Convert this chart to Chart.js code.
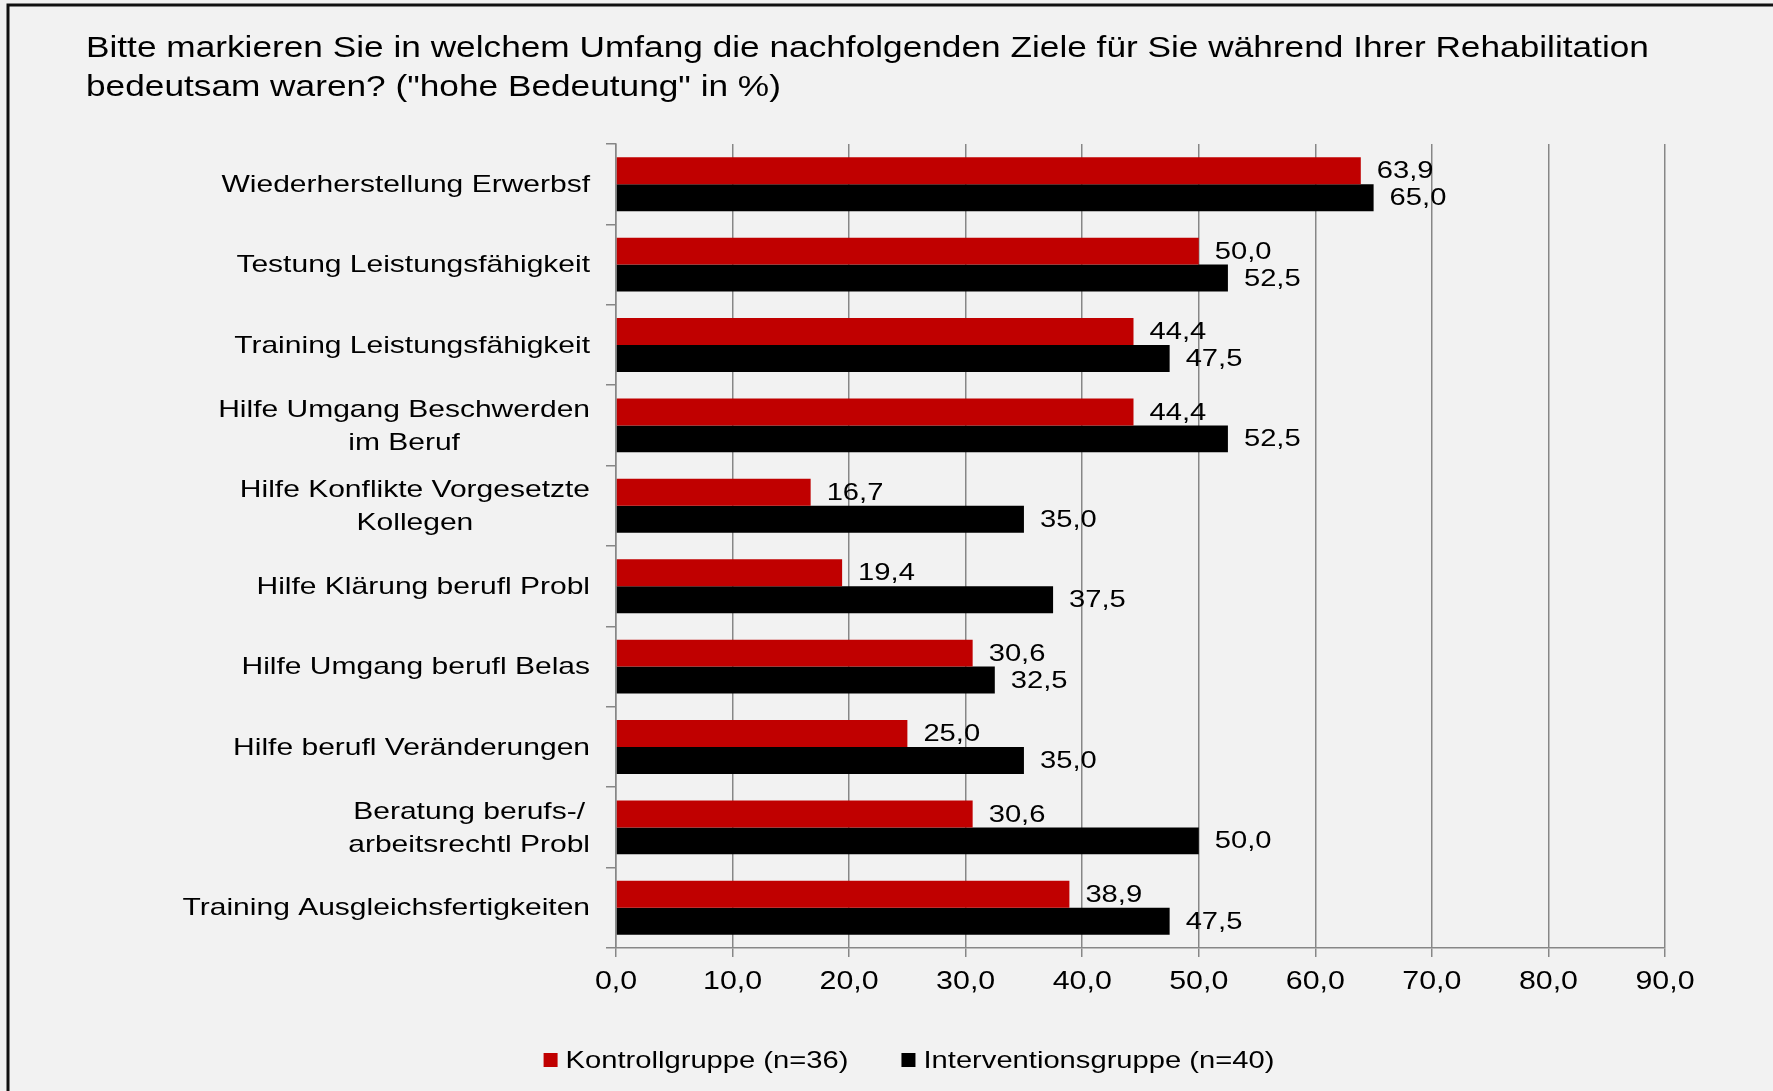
<!DOCTYPE html>
<html>
<head>
<meta charset="utf-8">
<script src="https://cdn.jsdelivr.net/npm/chart.js@4/dist/chart.umd.min.js"></script>
<style>
    html, body { margin: 0; padding: 0; background: #f2f2f2; }
    #wrap { width: 1773px; height: 1091px; }
</style>
</head>
<body>
<div id="wrap"><canvas id="zieleChart" width="1773" height="1091"></canvas></div>
<script>
// Ziele der Rehabilitation - "hohe Bedeutung" in %

const titel = [
    "Bitte markieren Sie in welchem Umfang die nachfolgenden Ziele für Sie während Ihrer Rehabilitation",
    "bedeutsam waren? (\"hohe Bedeutung\" in %)",
];

const kategorien = [
    ["Wiederherstellung Erwerbsf"],
    ["Testung Leistungsfähigkeit"],
    ["Training Leistungsfähigkeit"],
    ["Hilfe Umgang Beschwerden", "im Beruf"],
    ["Hilfe Konflikte Vorgesetzte", "Kollegen"],
    ["Hilfe Klärung berufl Probl"],
    ["Hilfe Umgang berufl Belas"],
    ["Hilfe berufl Veränderungen"],
    ["Beratung berufs-/", "arbeitsrechtl Probl"],
    ["Training Ausgleichsfertigkeiten"],
];

const kontrollgruppe = [63.9, 50.0, 44.4, 44.4, 16.7, 19.4, 30.6, 25.0, 30.6, 38.9];
const interventionsgruppe = [65.0, 52.5, 47.5, 52.5, 35.0, 37.5, 32.5, 35.0, 50.0, 47.5];

const xTicks = [0, 10, 20, 30, 40, 50, 60, 70, 80, 90];

const FONT = "'Liberation Sans', Arial, sans-serif";
// Die Vorlage ist horizontal gestreckt
const STRECKUNG = 1.215;
const STRECKUNG_KAT = 1.25;

function formatWert(v) {
    return v.toFixed(1).replace(".", ",");
}

// Text horizontal gestreckt zeichnen
function textGestreckt(ctx, text, x, y, align, sx = STRECKUNG) {
    ctx.save();
    ctx.translate(x, y);
    ctx.scale(sx, 1);
    ctx.textAlign = align;
    ctx.fillText(text, 0, 0);
    ctx.restore();
}

function textBreite(ctx, text, sx = STRECKUNG) {
    return ctx.measureText(text).width * sx;
}

// Hintergrund und Rahmen
const rahmenPlugin = {
    id: "rahmen",
    beforeDraw(chart) {
        const ctx = chart.ctx;
        ctx.save();
        ctx.fillStyle = "#f2f2f2";
        ctx.fillRect(0, 0, chart.width, chart.height);
        ctx.strokeStyle = "#111";
        ctx.lineWidth = 3;
        ctx.beginPath();
        ctx.moveTo(8, chart.height);
        ctx.lineTo(8, 5);
        ctx.lineTo(chart.width, 5);
        ctx.stroke();
        ctx.restore();
    },
};

// Titel, Achsenbeschriftungen und Legende
const textPlugin = {
    id: "texte",
    afterDraw(chart) {
        const ctx = chart.ctx;
        const area = chart.chartArea;
        const xScale = chart.scales.x;
        const yScale = chart.scales.y;
        ctx.save();
        ctx.fillStyle = "#000";
        ctx.textBaseline = "middle";

        // Titel
        ctx.font = "29px " + FONT;
        titel.forEach((t, i) => textGestreckt(ctx, t, 86, 49 + i * 39, "left"));

        // Kategorien: Block rechtsbündig, Zeilen zentriert
        ctx.font = "24px " + FONT;
        const rechts = area.left - 26;
        const zeile = 33;
        kategorien.forEach((lines, i) => {
            const y = yScale.getPixelForValue(i);
            const maxW = Math.max(...lines.map((l) => textBreite(ctx, l, STRECKUNG_KAT)));
            const cx = rechts - maxW / 2;
            const y0 = y - ((lines.length - 1) * zeile) / 2;
            lines.forEach((l, j) => textGestreckt(ctx, l, cx, y0 + j * zeile + 1, "center", STRECKUNG_KAT));
        });

        // x-Achse
        ctx.font = "25px " + FONT;
        xTicks.forEach((v) => {
            textGestreckt(ctx, formatWert(v), xScale.getPixelForValue(v), area.bottom + 34, "center");
        });

        // Legende
        ctx.font = "24px " + FONT;
        const box = 14;
        const luecke = 8;
        const abstand = 53;
        const items = chart.data.datasets.map((ds) => ({
            text: ds.label,
            farbe: ds.backgroundColor,
            w: box + luecke + textBreite(ctx, ds.label),
        }));
        const gesamt = items.reduce((a, it) => a + it.w, 0) + abstand * (items.length - 1);
        let lx = 909 - gesamt / 2;
        const ly = 1060;
        items.forEach((it) => {
            ctx.fillStyle = it.farbe;
            ctx.fillRect(lx, ly - box / 2, box, box);
            ctx.fillStyle = "#000";
            textGestreckt(ctx, it.text, lx + box + luecke, ly + 1, "left");
            lx += it.w + abstand;
        });
        ctx.restore();
    },
};

// Wertbeschriftungen rechts neben den Balken
const wertePlugin = {
    id: "werte",
    afterDatasetsDraw(chart) {
        const ctx = chart.ctx;
        ctx.save();
        ctx.font = "24px " + FONT;
        ctx.fillStyle = "#000";
        ctx.textBaseline = "middle";
        chart.data.datasets.forEach((ds, di) => {
            const meta = chart.getDatasetMeta(di);
            meta.data.forEach((bar, i) => {
                textGestreckt(ctx, formatWert(ds.data[i]), bar.x + 16, bar.y + 1, "left");
            });
        });
        ctx.restore();
    },
};

const ctx = document.getElementById("zieleChart");

new Chart(ctx, {
    type: "bar",
    data: {
        labels: kategorien,
        datasets: [
            {
                label: "Kontrollgruppe (n=36)",
                data: kontrollgruppe,
                backgroundColor: "#c00000",
                borderWidth: 0,
                categoryPercentage: 0.67,
                barPercentage: 1.0,
            },
            {
                label: "Interventionsgruppe (n=40)",
                data: interventionsgruppe,
                backgroundColor: "#000000",
                borderWidth: 0,
                categoryPercentage: 0.67,
                barPercentage: 1.0,
            },
        ],
    },
    options: {
        indexAxis: "y",
        responsive: false,
        animation: false,
        devicePixelRatio: 1,
        layout: {
            padding: { left: 86, right: 108, top: 144, bottom: 0 },
        },
        scales: {
            x: {
                min: 0,
                max: 90,
                afterBuildTicks(scale) {
                    scale.ticks = xTicks.map((v) => ({ value: v }));
                },
                afterFit(scale) {
                    scale.height = 143;
                },
                ticks: { display: false },
                grid: {
                    color: "#878787",
                    lineWidth: 1.5,
                    tickLength: 9,
                },
                border: { color: "#878787", width: 1.5 },
            },
            y: {
                afterFit(scale) {
                    scale.width = 530;
                },
                ticks: { display: false },
                grid: {
                    offset: true,
                    drawOnChartArea: false,
                    color: "#878787",
                    lineWidth: 1.5,
                    tickLength: 10,
                },
                border: { color: "#878787", width: 1.5 },
            },
        },
        plugins: {
            title: { display: false },
            legend: { display: false },
            tooltip: { enabled: false },
        },
    },
    plugins: [rahmenPlugin, textPlugin, wertePlugin],
});
</script>
</body>
</html>
